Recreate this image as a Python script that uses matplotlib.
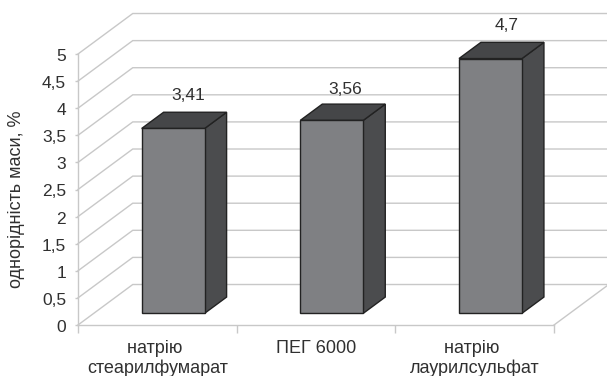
import matplotlib
matplotlib.use('Agg')
import matplotlib.pyplot as plt
from matplotlib.patches import Polygon
from matplotlib.transforms import ScaledTranslation

plt.rcParams['font.family'] = ['Liberation Sans', 'DejaVu Sans']

categories = ['натрію \nстеарилфумарат', 'ПЕГ 6000', 'натрію \nлаурилсульфат']
values = [3.41, 3.56, 4.7]
y_ticks = [0, 0.5, 1, 1.5, 2, 2.5, 3, 3.5, 4, 4.5, 5]
y_tick_labels = ['0', '0,5', '1', '1,5', '2', '2,5', '3', '3,5', '4', '4,5', '5']
value_labels = ['3,41', '3,56', '4,7']

GRID = '#c8c8c8'
TEXT = '#303030'
FRONT = '#7f8083'
SIDE = '#4b4c4e'
TOP = '#454648'
EDGE = '#222222'

# floor depth in data units
DX = 0.345
DY = 0.747
BAR_W = 0.397
NEAR = 0.289   # bar front, as a share of the floor depth
FAR = 0.69     # bar back

fig = plt.figure(figsize=(6.07, 3.76), dpi=100)
ax = fig.add_axes([78 / 607, 51 / 376, 476 / 607, 271 / 376])
ax.set_xlim(-0.5, 2.5)
ax.set_ylim(0, 5)
ax.patch.set_visible(False)

# back wall and left wall grid
for y in y_ticks:
    ax.plot([-0.5, -0.5 + DX, 2.5 + DX], [y, y + DY, y + DY], color=GRID, lw=1.0,
            clip_on=False, zorder=1, solid_joinstyle='miter')
ax.plot([2.5, 2.5 + DX], [0, DY], color=GRID, lw=1.0, clip_on=False, zorder=1)


def box(x, v):
    x0 = x - BAR_W / 2 + NEAR * DX
    x1 = x + BAR_W / 2 + NEAR * DX
    y0 = NEAR * DY
    y1 = y0 + v
    ox = (FAR - NEAR) * DX
    oy = (FAR - NEAR) * DY
    faces = [
        ([(x1, y0), (x1 + ox, y0 + oy), (x1 + ox, y1 + oy), (x1, y1)], SIDE),
        ([(x0, y1), (x1, y1), (x1 + ox, y1 + oy), (x0 + ox, y1 + oy)], TOP),
        ([(x0, y0), (x1, y0), (x1, y1), (x0, y1)], FRONT),
    ]
    for pts, c in faces:
        ax.add_patch(Polygon(pts, closed=True, facecolor=c, edgecolor=EDGE, lw=1.0,
                             clip_on=False, zorder=3, joinstyle='miter'))
    return (x0 + x1) / 2, y1


offsets = [(11, 24), (10, 22.5), (11.5, 24)]
for i, v in enumerate(values):
    cx, top = box(i, v)
    ax.annotate(value_labels[i], (cx, top), xytext=offsets[i], textcoords='offset points',
                ha='center', va='center', fontsize=12.5, color=TEXT, annotation_clip=False)

for s in ['top', 'right']:
    ax.spines[s].set_visible(False)
for s in ['left', 'bottom']:
    ax.spines[s].set_color(GRID)
    ax.spines[s].set_linewidth(1.0)

ax.set_yticks(y_ticks)
ax.set_yticklabels(y_tick_labels)
ax.tick_params(axis='y', length=2.5, width=1, color=GRID, labelcolor=TEXT, labelsize=12.5, pad=6)
nudge = ScaledTranslation(0, -1 / 100, fig.dpi_scale_trans)
for lab in ax.get_yticklabels():
    lab.set_transform(lab.get_transform() + nudge)
ax.set_xticks([0, 1, 2])
ax.set_xticklabels(categories, linespacing=1.2)
ax.tick_params(axis='x', which='major', length=0, labelcolor=TEXT, labelsize=13, pad=10.5)
ax.set_xticks([-0.5, 0.5, 1.5, 2.5], minor=True)
ax.tick_params(axis='x', which='minor', length=5.5, width=1, color=GRID)

fig.text(17 / 607, 1 - 199 / 376, 'однорідність маси, %', rotation=90, ha='center', va='center',
         fontsize=13, color=TEXT)

fig.savefig('out.png', dpi=100)
